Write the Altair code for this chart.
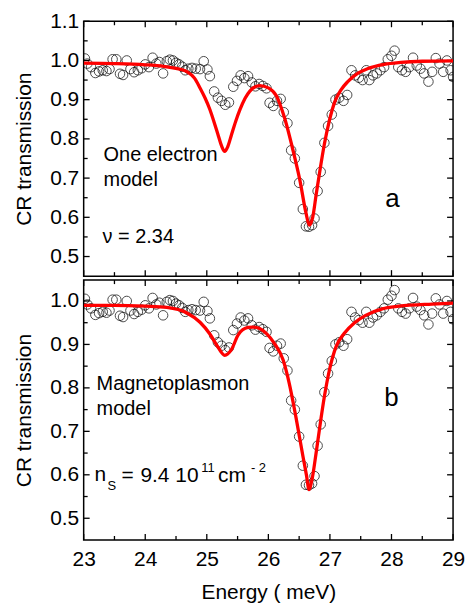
import altair as alt
import pandas as pd

# ---------------- data ----------------
energy = [23.02, 23.06, 23.12, 23.19, 23.25, 23.31, 23.37, 23.42, 23.47, 23.53,
          23.59, 23.64, 23.70, 23.76, 23.82, 23.88, 23.94, 24.00, 24.06, 24.12,
          24.18, 24.23, 24.29, 24.35, 24.40, 24.45, 24.50, 24.55, 24.60, 24.65,
          24.70, 24.76, 24.82, 24.89, 24.95, 25.01, 25.05, 25.12, 25.18, 25.24,
          25.30, 25.36, 25.43, 25.49, 25.55, 25.61, 25.67, 25.73, 25.79, 25.85,
          25.91, 25.97, 26.02, 26.08, 26.14, 26.20, 26.25, 26.31, 26.37, 26.43,
          26.50, 26.56, 26.61, 26.66, 26.71, 26.75, 26.80, 26.85, 26.91, 26.97,
          27.03, 27.09, 27.15, 27.22, 27.28, 27.35, 27.41, 27.47, 27.53, 27.59,
          27.64, 27.70, 27.76, 27.82, 27.88, 27.94, 28.00, 28.05, 28.11, 28.17,
          28.23, 28.29, 28.35, 28.41, 28.47, 28.53, 28.60, 28.66, 28.72, 28.78,
          28.84, 28.90, 28.96, 29.00]
transmission = [1.005, 0.992, 0.983, 0.968, 0.972, 0.975, 0.973, 0.978, 1.003, 1.003,
                0.966, 0.963, 1.000, 0.978, 0.970, 0.975, 0.980, 0.990, 0.983, 1.007,
                0.992, 0.996, 0.967, 0.998, 1.002, 1.000, 0.994, 0.990, 0.984, 0.975,
                0.979, 0.981, 0.979, 0.978, 0.998, 0.977, 0.960, 0.921, 0.905, 0.897,
                0.887, 0.893, 0.933, 0.948, 0.962, 0.955, 0.960, 0.944, 0.934, 0.940,
                0.935, 0.929, 0.892, 0.884, 0.897, 0.902, 0.868, 0.840, 0.771, 0.750,
                0.688, 0.621, 0.577, 0.576, 0.580, 0.597, 0.667, 0.716, 0.790, 0.833,
                0.862, 0.900, 0.905, 0.897, 0.912, 0.975, 0.962, 0.956, 0.950, 0.975,
                0.950, 0.962, 0.967, 0.975, 0.983, 1.003, 1.012, 1.025, 0.983, 0.975,
                0.971, 0.983, 1.007, 0.987, 0.979, 0.967, 0.946, 0.971, 1.006, 0.992,
                0.971, 1.000, 0.975, 0.958]

fit_a_energy = [23.0, 23.5, 24.0, 24.3, 24.5, 24.67, 24.8, 24.89, 24.97, 25.05,
                25.12, 25.18, 25.24, 25.29, 25.34, 25.40, 25.47, 25.54, 25.62, 25.70,
                25.86, 26.0, 26.13, 26.26, 26.4, 26.51, 26.61, 26.665, 26.72, 26.78,
                26.83, 26.91, 26.99, 27.08, 27.18, 27.29, 27.45, 27.61, 27.88, 28.15,
                28.5, 29.0]
fit_a_trans = [0.993, 0.992, 0.989, 0.985, 0.980, 0.972, 0.955, 0.930, 0.905, 0.875,
               0.842, 0.812, 0.782, 0.768, 0.780, 0.810, 0.845, 0.875, 0.903, 0.922,
               0.936, 0.930, 0.910, 0.855, 0.771, 0.696, 0.612, 0.580, 0.600, 0.662,
               0.712, 0.787, 0.846, 0.895, 0.925, 0.946, 0.967, 0.979, 0.990, 0.995,
               0.998, 0.999]

fit_b_energy = [23.0, 23.5, 24.0, 24.35, 24.67, 24.89, 25.05, 25.18, 25.29, 25.40,
                25.51, 25.67, 25.75, 25.85, 25.97, 26.10, 26.24, 26.34, 26.45, 26.56,
                26.62, 26.66, 26.71, 26.78, 26.83, 26.91, 26.99, 27.10, 27.23, 27.40,
                27.58, 27.85, 28.12, 28.66, 29.0]
fit_b_trans = [0.990, 0.990, 0.988, 0.985, 0.973, 0.951, 0.924, 0.894, 0.875, 0.888,
               0.922, 0.939, 0.940, 0.937, 0.925, 0.902, 0.864, 0.810, 0.731, 0.644,
               0.598, 0.566, 0.590, 0.655, 0.705, 0.780, 0.840, 0.895, 0.925, 0.950,
               0.967, 0.982, 0.988, 0.993, 0.995]

x_major = [23, 24, 25, 26, 27, 28, 29]
x_minor = [23.5, 24.5, 25.5, 26.5, 27.5, 28.5]
y_major_a = [0.5, 0.6, 0.7, 0.8, 0.9, 1.0, 1.1]
y_minor_a = [0.55, 0.65, 0.75, 0.85, 0.95, 1.05]
y_major_b = [0.5, 0.6, 0.7, 0.8, 0.9, 1.0]
y_minor_b = [0.55, 0.65, 0.75, 0.85, 0.95]

text_a = ["One electron", "model"]
text_nu = "\u03bd = 2.34"
text_b = ["Magnetoplasmon", "model"]
ns_parts = ["n", "S", "=", "9.4", "10", "11", "cm", "- 2"]
panel_letters = ["a", "b"]

# ---------------- layout / style ----------------
W = 371
HA = 256
HB = 261
FONT = "Liberation Sans"
RED = "#ff0000"

pts_df = pd.DataFrame({"E": energy, "T": transmission})


def txt(s, x, y, size, baseline="alphabetic"):
    return alt.Chart(pd.DataFrame({"t": [s]})).mark_text(
        align="left", baseline=baseline, font=FONT, fontSize=size, color="black"
    ).encode(text="t:N", x=alt.value(x), y=alt.value(y))


def panel(fitE, fitT, ydom, ymaj, ymin, H, show_x, texts):
    xs = alt.Scale(domain=[23, 29], nice=False, zero=False)
    ys = alt.Scale(domain=ydom, nice=False, zero=False)
    if show_x:
        xaxis = alt.Axis(values=x_major, ticks=False, domain=False, grid=False,
                         labelPadding=9, title="Energy ( meV)", titlePadding=12,
                         format="d", labelFlush=False,
                         labelFont=FONT, titleFont=FONT, labelFontSize=21,
                         titleFontSize=21, labelColor="black", titleColor="black",
                         titleFontWeight="normal")
    else:
        xaxis = None
    yaxis = alt.Axis(values=ymaj, format=".1f", ticks=False, domain=False, grid=False,
                     labelPadding=5, title="CR transmission", titlePadding=15,
                     labelFont=FONT, titleFont=FONT, labelFontSize=21,
                     titleFontSize=21, labelColor="black", titleColor="black",
                     titleFontWeight="normal")

    def X(f):
        return alt.X(f, scale=xs, axis=xaxis)

    def Y(f):
        return alt.Y(f, scale=ys, axis=yaxis)

    layers = []
    tick = dict(color="black", strokeWidth=1.3)
    xt_major = pd.DataFrame({"E": x_major})
    xt_minor = pd.DataFrame({"E": x_minor})
    yt_major = pd.DataFrame({"T": ymaj})
    yt_minor = pd.DataFrame({"T": ymin})
    for df, L in ((xt_major, 6), (xt_minor, 4)):
        layers.append(alt.Chart(df).mark_rule(**tick).encode(
            x=X("E:Q"), y=alt.value(0), y2=alt.value(L)))
        layers.append(alt.Chart(df).mark_rule(**tick).encode(
            x=X("E:Q"), y=alt.value(H), y2=alt.value(H - L)))
    for df, L in ((yt_major, 6), (yt_minor, 4)):
        layers.append(alt.Chart(df).mark_rule(**tick).encode(
            y=Y("T:Q"), x=alt.value(0), x2=alt.value(L)))
        layers.append(alt.Chart(df).mark_rule(**tick).encode(
            y=Y("T:Q"), x=alt.value(W), x2=alt.value(W - L)))

    layers.append(alt.Chart(pts_df).mark_point(
        shape="circle", filled=False, size=92, color="black", strokeWidth=1, clip=True
    ).encode(x=X("E:Q"), y=Y("T:Q")))

    fit_df = pd.DataFrame({"E": fitE, "T": fitT})
    layers.append(alt.Chart(fit_df).mark_line(
        color=RED, strokeWidth=3.3, interpolate="monotone", clip=True
    ).encode(x=X("E:Q"), y=Y("T:Q")))

    layers.extend(texts)
    return alt.layer(*layers).properties(width=W, height=H)


texts_a = [
    txt(text_a[0], 20, 140, 20),
    txt(text_a[1], 20, 165, 20),
    txt(panel_letters[0], 303, 187, 26),
    txt(text_nu, 19, 223, 20),
]
texts_b = [
    txt(text_b[0], 13, 110, 20),
    txt(text_b[1], 13, 135, 20),
    txt(panel_letters[1], 302, 126, 26),
    txt(ns_parts[0], 11, 202, 21),
    txt(ns_parts[1], 24, 211, 13),
    txt(ns_parts[2], 38, 203, 21),
    txt(ns_parts[3], 57, 203, 21),
    txt(ns_parts[4], 92, 203, 21),
    txt(ns_parts[5], 118, 193, 13),
    txt(ns_parts[6], 135, 203, 21),
    txt(ns_parts[7], 168, 193, 13),
]

top = panel(fit_a_energy, fit_a_trans, [0.45, 1.1], y_major_a, y_minor_a, HA, False, texts_a)
bottom = panel(fit_b_energy, fit_b_trans, [0.45, 1.048], y_major_b, y_minor_b, HB, True, texts_b)

chart = alt.vconcat(top, bottom, spacing=0).properties(
    padding={"left": 5, "top": 0, "right": 0, "bottom": 0},
    background="white"
).configure_view(
    stroke="black", strokeWidth=1.5
)

chart.save("out.html", embed_options={"renderer": "svg", "actions": False})
